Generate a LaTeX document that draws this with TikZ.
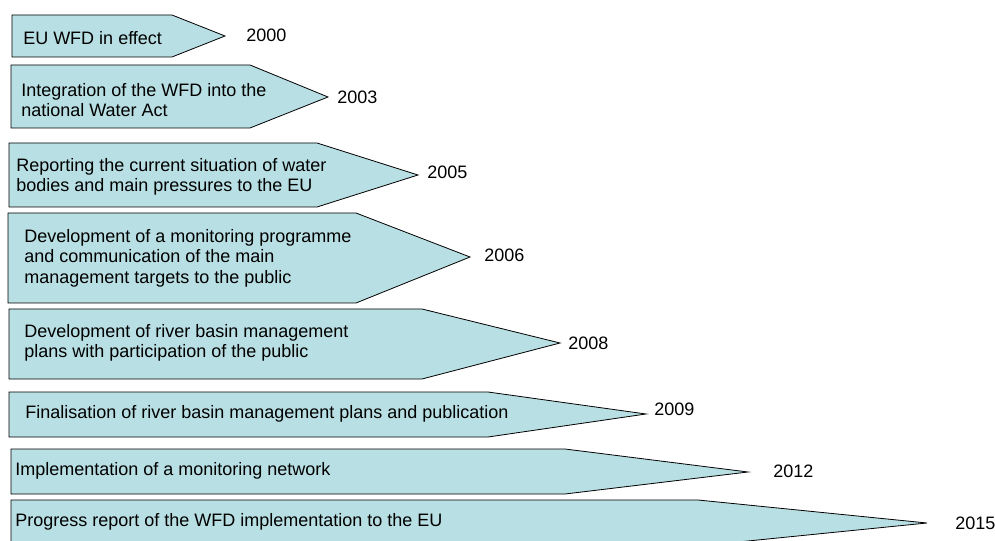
\documentclass[tikz,border=0pt]{standalone}
\usepackage{fontspec}
\setmainfont{Liberation Sans}
\definecolor{stagefill}{RGB}{184,223,227}

\begin{document}
\begin{tikzpicture}[x=0.75pt,y=-0.75pt,
  stage/.style={draw=black,fill=stagefill,line width=0.6pt,line join=miter},
  stagetext/.style={anchor=west,inner sep=0pt,align=left,font=\fontsize{13.5}{15.4}\selectfont},
  year/.style={anchor=west,inner sep=0pt,font=\fontsize{13.5}{15.4}\selectfont}]
\useasboundingbox (0,0) rectangle (995,541);
\clip (0,0) rectangle (995,541);
\draw[stage] (12,15) -- (172,15) -- (225,36) -- (172,57) -- (12,57) -- cycle;
\draw[stage] (11,65) -- (250,65) -- (328,97) -- (250,128) -- (11,128) -- cycle;
\draw[stage] (9,143) -- (317,143) -- (418,175) -- (317,207) -- (9,207) -- cycle;
\draw[stage] (8,213) -- (356,213) -- (470,257) -- (356,303) -- (8,303) -- cycle;
\draw[stage] (9,309) -- (422,309) -- (560,343) -- (422,379) -- (9,379) -- cycle;
\draw[stage] (9,392) -- (488,392) -- (646,414) -- (488,437) -- (9,437) -- cycle;
\draw[stage] (11,449) -- (565,449) -- (748,472) -- (565,494) -- (11,494) -- cycle;
\draw[stage] (11,500) -- (698,500) -- (927,523) -- (698,546) -- (11,546) -- cycle;
\draw (23,38) node[stagetext](effect) {EU WFD in effect};
\draw (21,100) node[stagetext](act) {Integration of the WFD into the\\national Water Act};
\draw (16,177) node[stagetext](report) {Reporting the current situation of water\\bodies and main pressures to the EU};
\draw (24,258) node[stagetext](programme) {Development of a monitoring programme\\and communication of the main\\management targets to the public};
\draw (24,343) node[stagetext](plans) {Development of river basin management\\plans with participation of the public};
\draw (25,414) node[stagetext](publication) {Finalisation of river basin management plans and publication};
\draw (15,471) node[stagetext](network) {Implementation of a monitoring network};
\draw (15,522) node[stagetext](progress) {Progress report of the WFD implementation to the EU};
\draw (246,35) node[year](y2000) {2000};
\draw (337,97) node[year](y2003) {2003};
\draw (427,172) node[year](y2005) {2005};
\draw (484,255) node[year](y2006) {2006};
\draw (568,343) node[year](y2008) {2008};
\draw (654,409) node[year](y2009) {2009};
\draw (773,471) node[year](y2012) {2012};
\draw (955,523) node[year](y2015) {2015};
\end{tikzpicture}
\end{document}
